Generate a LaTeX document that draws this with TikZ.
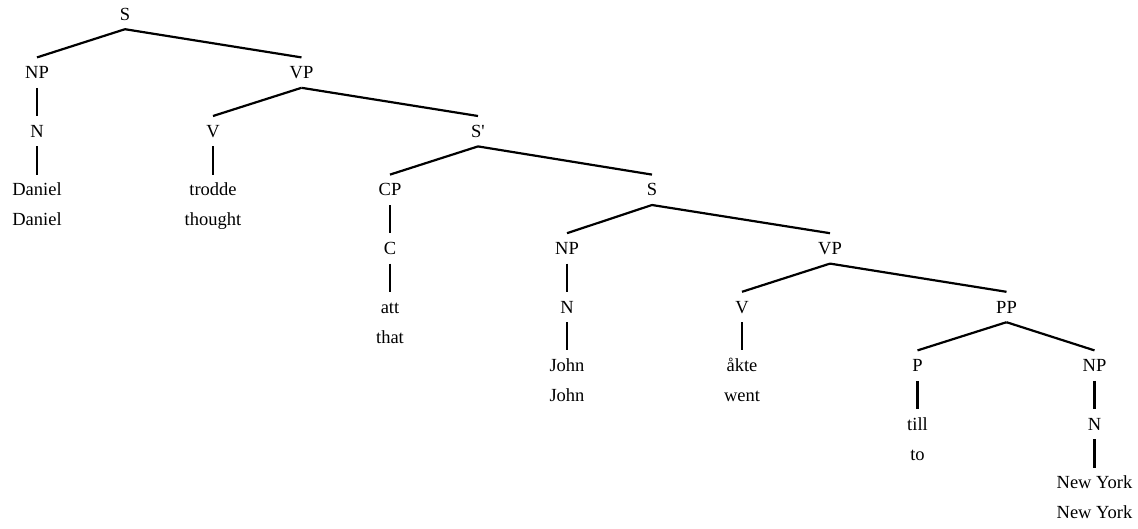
\documentclass[tikz,border=0pt]{standalone}
\usepackage{fontspec}
\setmainfont{Liberation Serif}[Ligatures=TeXOff]
\begin{document}
\begin{tikzpicture}[x=1pt,y=-1pt,
  lab/.style={anchor=base,inner xsep=0pt,inner ysep=9pt,text height=12pt,text depth=0pt,font=\fontsize{18.5}{20}\selectfont},
  edge/.style={line width=2.2pt}]
\useasboundingbox (0,0) rectangle (1138,528);
% levels: baseline = 20 + 58.6 k
\node[lab] (s) at (125,20) {S};
\node[lab] (np1) at (37,78.6) {NP};
\node[lab] (vp1) at (301.5,78.6) {VP};
\node[lab] (n1) at (37,137.2) {N};
\node[lab] (v1) at (213,137.2) {V};
\node[lab] (sbar) at (478,137.2) {S'};
\node[lab] (daniel) at (37,195.8) {Daniel};
\node[lab] (danielg) at (37,225.8) {Daniel};
\node[lab] (trodde) at (213,195.8) {trodde};
\node[lab] (thought) at (213,225.8) {thought};
\node[lab] (cp) at (390,195.8) {CP};
\node[lab] (s2) at (652,195.8) {S};
\node[lab] (c) at (390,254.4) {C};
\node[lab] (np2) at (567,254.4) {NP};
\node[lab] (vp2) at (830,254.4) {VP};
\node[lab] (att) at (390,313) {att};
\node[lab] (that) at (390,343) {that};
\node[lab] (n2) at (567,313) {N};
\node[lab] (v2) at (742,313) {V};
\node[lab] (pp) at (1006.5,313) {PP};
\node[lab] (john) at (567,371.6) {John};
\node[lab] (johng) at (567,401.6) {John};
\node[lab] (akte) at (742,371.6) {åkte};
\node[lab] (went) at (742,401.6) {went};
\node[lab] (p) at (917.5,371.6) {P};
\node[lab] (np3) at (1094.5,371.6) {NP};
\node[lab] (till) at (917.5,430.2) {till};
\node[lab] (to) at (917.5,460.2) {to};
\node[lab] (n3) at (1094.5,430.2) {N};
\node[lab] (ny) at (1094.5,488.8) {New York};
\node[lab] (nyg) at (1094.5,518.8) {New York};
\foreach \a/\b in {s/np1,s/vp1,np1/n1,n1/daniel,vp1/v1,vp1/sbar,v1/trodde,
  sbar/cp,sbar/s2,cp/c,c/att,s2/np2,s2/vp2,np2/n2,n2/john,vp2/v2,vp2/pp,
  v2/akte,pp/p,pp/np3,p/till,np3/n3,n3/ny}
  \draw[edge] (\a.south) -- (\b.north);
\end{tikzpicture}
\end{document}
